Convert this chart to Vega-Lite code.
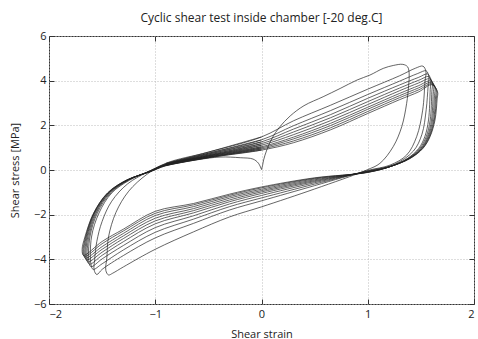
{
  "$schema": "https://vega.github.io/schema/vega-lite/v6.json",
  "width": 425,
  "height": 268,
  "autosize": {"type": "none"},
  "padding": {"left": 49, "top": 36, "right": 4, "bottom": 35},
  "title": {"text": "Cyclic shear test inside chamber [-20 deg.C]", "font": "Open Sans", "fontSize": 12, "fontWeight": "normal", "color": "#222", "offset": 5, "anchor": "middle"},
  "config": {
    "view": {"stroke": "#333", "strokeWidth": 1},
    "font": "Open Sans",
    "axis": {"grid": true, "gridDash": [1, 2], "gridColor": "#bdbdbd", "gridWidth": 1, "domain": false, "tickColor": "#333", "tickSize": -5, "labelFont": "Open Sans", "labelFontSize": 11, "labelColor": "#222", "titleFont": "Open Sans", "titleFontSize": 11, "titleFontWeight": "normal", "titleColor": "#222"}
  },
  "data": {"values": [
    {"c":0,"x":0,"y":0.02},{"c":0,"x":0.01,"y":0.2},{"c":0,"x":0.02,"y":0.45},{"c":0,"x":0.05,"y":0.9},{"c":0,"x":0.1,"y":1.43},{"c":0,"x":0.17,"y":1.92},{"c":0,"x":0.27,"y":2.42},{"c":0,"x":0.4,"y":2.88},{"c":0,"x":0.58,"y":3.28},{"c":0,"x":0.74,"y":3.65},{"c":0,"x":0.9,"y":4.03},{"c":0,"x":1.02,"y":4.25},{"c":0,"x":1.146,"y":4.55},{"c":0,"x":1.24,"y":4.68},{"c":0,"x":1.33,"y":4.73},{"c":0,"x":1.375,"y":4.62},{"c":0,"x":1.39,"y":4.3},{"c":0,"x":1.385,"y":3.8},{"c":0,"x":1.366,"y":2.98},{"c":0,"x":1.32,"y":1.94},{"c":0,"x":1.24,"y":1.05},{"c":0,"x":1.115,"y":0.3},{"c":0,"x":0.99,"y":0.0},{"c":0,"x":0.5,"y":-0.85},{"c":0,"x":0,"y":-1.65},{"c":0,"x":-0.3,"y":-2.1},{"c":0,"x":-0.64,"y":-2.77},{"c":0,"x":-1.0,"y":-3.55},{"c":0,"x":-1.3,"y":-4.34},{"c":0,"x":-1.4,"y":-4.62},{"c":0,"x":-1.44,"y":-4.7},{"c":0,"x":-1.465,"y":-4.5},{"c":0,"x":-1.455,"y":-3.9},{"c":0,"x":-1.44,"y":-3.0},{"c":0,"x":-1.37,"y":-1.9},{"c":0,"x":-1.25,"y":-0.95},{"c":0,"x":-1.08,"y":-0.2},{"c":0,"x":-0.9,"y":0.3},{"c":0,"x":-0.5,"y":0.8},{"c":0,"x":0,"y":1.48},
    {"c":1,"x":-0.9,"y":0.3},{"c":1,"x":-0.5,"y":0.8},{"c":1,"x":0,"y":1.48},{"c":1,"x":0.3,"y":2.2},{"c":1,"x":0.65,"y":2.9},{"c":1,"x":1.0,"y":3.62},{"c":1,"x":1.3,"y":4.22},{"c":1,"x":1.45,"y":4.56},{"c":1,"x":1.52,"y":4.65},{"c":1,"x":1.548,"y":4.4},{"c":1,"x":1.54,"y":4.03},{"c":1,"x":1.517,"y":2.68},{"c":1,"x":1.46,"y":1.49},{"c":1,"x":1.366,"y":0.67},{"c":1,"x":1.21,"y":0.22},{"c":1,"x":1.0,"y":-0.02},{"c":1,"x":0.5,"y":-0.7},{"c":1,"x":0,"y":-1.38},{"c":1,"x":-0.3,"y":-1.79},{"c":1,"x":-0.64,"y":-2.39},{"c":1,"x":-1.0,"y":-3.04},{"c":1,"x":-1.3,"y":-3.83},{"c":1,"x":-1.5,"y":-4.45},{"c":1,"x":-1.55,"y":-4.68},{"c":1,"x":-1.575,"y":-4.48},{"c":1,"x":-1.57,"y":-4.0},{"c":1,"x":-1.55,"y":-3.2},{"c":1,"x":-1.5,"y":-2.3},{"c":1,"x":-1.41,"y":-1.4},{"c":1,"x":-1.26,"y":-0.62},{"c":1,"x":-1.06,"y":-0.06},{"c":1,"x":-0.9,"y":0.28},{"c":1,"x":-0.5,"y":0.75},{"c":1,"x":0,"y":1.35},
    {"c":2,"x":-0.9,"y":0.28},{"c":2,"x":-0.5,"y":0.75},{"c":2,"x":0,"y":1.35},{"c":2,"x":0.3,"y":1.98},{"c":2,"x":0.65,"y":2.66},{"c":2,"x":1.0,"y":3.38},{"c":2,"x":1.3,"y":3.98},{"c":2,"x":1.47,"y":4.32},{"c":2,"x":1.55,"y":4.44},{"c":2,"x":1.575,"y":4.17},{"c":2,"x":1.568,"y":3.75},{"c":2,"x":1.55,"y":2.7},{"c":2,"x":1.51,"y":1.6},{"c":2,"x":1.43,"y":0.85},{"c":2,"x":1.25,"y":0.25},{"c":2,"x":1.0,"y":-0.04},{"c":2,"x":0.5,"y":-0.63},{"c":2,"x":0,"y":-1.25},{"c":2,"x":-0.3,"y":-1.64},{"c":2,"x":-0.64,"y":-2.2},{"c":2,"x":-1.0,"y":-2.79},{"c":2,"x":-1.3,"y":-3.58},{"c":2,"x":-1.5,"y":-4.2},{"c":2,"x":-1.585,"y":-4.45},{"c":2,"x":-1.605,"y":-4.22},{"c":2,"x":-1.6,"y":-3.0},{"c":2,"x":-1.53,"y":-1.93},{"c":2,"x":-1.41,"y":-1.03},{"c":2,"x":-1.24,"y":-0.45},{"c":2,"x":-1.05,"y":-0.04},{"c":2,"x":-0.9,"y":0.26},{"c":2,"x":-0.5,"y":0.71},{"c":2,"x":0,"y":1.26},
    {"c":3,"x":-0.9,"y":0.26},{"c":3,"x":-0.5,"y":0.71},{"c":3,"x":0,"y":1.26},{"c":3,"x":0.3,"y":1.83},{"c":3,"x":0.65,"y":2.48},{"c":3,"x":1.0,"y":3.21},{"c":3,"x":1.3,"y":3.81},{"c":3,"x":1.48,"y":4.15},{"c":3,"x":1.565,"y":4.3},{"c":3,"x":1.592,"y":4.02},{"c":3,"x":1.588,"y":3.6},{"c":3,"x":1.572,"y":2.24},{"c":3,"x":1.537,"y":1.49},{"c":3,"x":1.48,"y":0.97},{"c":3,"x":1.375,"y":0.52},{"c":3,"x":1.205,"y":0.15},{"c":3,"x":1.0,"y":-0.06},{"c":3,"x":0.5,"y":-0.57},{"c":3,"x":0,"y":-1.14},{"c":3,"x":-0.3,"y":-1.52},{"c":3,"x":-0.64,"y":-2.05},{"c":3,"x":-1.0,"y":-2.58},{"c":3,"x":-1.3,"y":-3.38},{"c":3,"x":-1.5,"y":-3.98},{"c":3,"x":-1.605,"y":-4.33},{"c":3,"x":-1.625,"y":-4.08},{"c":3,"x":-1.615,"y":-3.0},{"c":3,"x":-1.545,"y":-1.93},{"c":3,"x":-1.42,"y":-1.03},{"c":3,"x":-1.25,"y":-0.45},{"c":3,"x":-1.05,"y":-0.05},{"c":3,"x":-0.9,"y":0.25},{"c":3,"x":-0.5,"y":0.67},{"c":3,"x":0,"y":1.18},
    {"c":4,"x":-0.9,"y":0.25},{"c":4,"x":-0.5,"y":0.67},{"c":4,"x":0,"y":1.18},{"c":4,"x":0.3,"y":1.7},{"c":4,"x":0.65,"y":2.34},{"c":4,"x":1.0,"y":3.06},{"c":4,"x":1.3,"y":3.67},{"c":4,"x":1.48,"y":4.02},{"c":4,"x":1.575,"y":4.18},{"c":4,"x":1.607,"y":3.9},{"c":4,"x":1.603,"y":3.5},{"c":4,"x":1.588,"y":2.24},{"c":4,"x":1.55,"y":1.49},{"c":4,"x":1.49,"y":0.97},{"c":4,"x":1.38,"y":0.52},{"c":4,"x":1.207,"y":0.15},{"c":4,"x":1.0,"y":-0.07},{"c":4,"x":0.5,"y":-0.52},{"c":4,"x":0,"y":-1.05},{"c":4,"x":-0.3,"y":-1.42},{"c":4,"x":-0.64,"y":-1.92},{"c":4,"x":-1.0,"y":-2.41},{"c":4,"x":-1.3,"y":-3.21},{"c":4,"x":-1.5,"y":-3.82},{"c":4,"x":-1.62,"y":-4.22},{"c":4,"x":-1.64,"y":-3.97},{"c":4,"x":-1.625,"y":-3.0},{"c":4,"x":-1.555,"y":-1.93},{"c":4,"x":-1.43,"y":-1.03},{"c":4,"x":-1.255,"y":-0.45},{"c":4,"x":-1.05,"y":-0.06},{"c":4,"x":-0.9,"y":0.24},{"c":4,"x":-0.5,"y":0.64},{"c":4,"x":0,"y":1.11},
    {"c":5,"x":-0.9,"y":0.24},{"c":5,"x":-0.5,"y":0.64},{"c":5,"x":0,"y":1.11},{"c":5,"x":0.3,"y":1.58},{"c":5,"x":0.65,"y":2.21},{"c":5,"x":1.0,"y":2.93},{"c":5,"x":1.3,"y":3.55},{"c":5,"x":1.48,"y":3.9},{"c":5,"x":1.582,"y":4.08},{"c":5,"x":1.62,"y":3.8},{"c":5,"x":1.616,"y":3.4},{"c":5,"x":1.6,"y":2.24},{"c":5,"x":1.561,"y":1.49},{"c":5,"x":1.5,"y":0.97},{"c":5,"x":1.386,"y":0.52},{"c":5,"x":1.208,"y":0.15},{"c":5,"x":1.0,"y":-0.08},{"c":5,"x":0.5,"y":-0.48},{"c":5,"x":0,"y":-0.98},{"c":5,"x":-0.3,"y":-1.34},{"c":5,"x":-0.64,"y":-1.82},{"c":5,"x":-1.0,"y":-2.28},{"c":5,"x":-1.3,"y":-3.07},{"c":5,"x":-1.5,"y":-3.68},{"c":5,"x":-1.635,"y":-4.12},{"c":5,"x":-1.652,"y":-3.87},{"c":5,"x":-1.635,"y":-3.0},{"c":5,"x":-1.563,"y":-1.93},{"c":5,"x":-1.435,"y":-1.03},{"c":5,"x":-1.26,"y":-0.45},{"c":5,"x":-1.05,"y":-0.06},{"c":5,"x":-0.9,"y":0.23},{"c":5,"x":-0.5,"y":0.62},{"c":5,"x":0,"y":1.04},
    {"c":6,"x":-0.9,"y":0.23},{"c":6,"x":-0.5,"y":0.62},{"c":6,"x":0,"y":1.04},{"c":6,"x":0.3,"y":1.47},{"c":6,"x":0.65,"y":2.09},{"c":6,"x":1.0,"y":2.81},{"c":6,"x":1.3,"y":3.43},{"c":6,"x":1.48,"y":3.78},{"c":6,"x":1.59,"y":3.99},{"c":6,"x":1.632,"y":3.7},{"c":6,"x":1.628,"y":3.33},{"c":6,"x":1.61,"y":2.24},{"c":6,"x":1.569,"y":1.49},{"c":6,"x":1.506,"y":0.97},{"c":6,"x":1.39,"y":0.52},{"c":6,"x":1.209,"y":0.15},{"c":6,"x":1.0,"y":-0.09},{"c":6,"x":0.5,"y":-0.44},{"c":6,"x":0,"y":-0.92},{"c":6,"x":-0.3,"y":-1.26},{"c":6,"x":-0.64,"y":-1.73},{"c":6,"x":-1.0,"y":-2.16},{"c":6,"x":-1.3,"y":-2.95},{"c":6,"x":-1.5,"y":-3.55},{"c":6,"x":-1.648,"y":-4.03},{"c":6,"x":-1.662,"y":-3.79},{"c":6,"x":-1.643,"y":-3.0},{"c":6,"x":-1.57,"y":-1.93},{"c":6,"x":-1.44,"y":-1.03},{"c":6,"x":-1.262,"y":-0.45},{"c":6,"x":-1.05,"y":-0.07},{"c":6,"x":-0.9,"y":0.22},{"c":6,"x":-0.5,"y":0.59},{"c":6,"x":0,"y":0.99},
    {"c":7,"x":-0.9,"y":0.22},{"c":7,"x":-0.5,"y":0.59},{"c":7,"x":0,"y":0.99},{"c":7,"x":0.3,"y":1.39},{"c":7,"x":0.65,"y":1.99},{"c":7,"x":1.0,"y":2.72},{"c":7,"x":1.3,"y":3.33},{"c":7,"x":1.48,"y":3.68},{"c":7,"x":1.595,"y":3.92},{"c":7,"x":1.642,"y":3.62},{"c":7,"x":1.638,"y":3.27},{"c":7,"x":1.62,"y":2.24},{"c":7,"x":1.576,"y":1.49},{"c":7,"x":1.512,"y":0.97},{"c":7,"x":1.394,"y":0.52},{"c":7,"x":1.21,"y":0.15},{"c":7,"x":1.0,"y":-0.1},{"c":7,"x":0.5,"y":-0.4},{"c":7,"x":0,"y":-0.86},{"c":7,"x":-0.3,"y":-1.19},{"c":7,"x":-0.64,"y":-1.64},{"c":7,"x":-1.0,"y":-2.04},{"c":7,"x":-1.3,"y":-2.84},{"c":7,"x":-1.5,"y":-3.43},{"c":7,"x":-1.658,"y":-3.95},{"c":7,"x":-1.672,"y":-3.71},{"c":7,"x":-1.65,"y":-3.0},{"c":7,"x":-1.575,"y":-1.93},{"c":7,"x":-1.445,"y":-1.03},{"c":7,"x":-1.265,"y":-0.45},{"c":7,"x":-1.05,"y":-0.07},{"c":7,"x":-0.9,"y":0.21},{"c":7,"x":-0.5,"y":0.57},{"c":7,"x":0,"y":0.94},
    {"c":8,"x":-0.9,"y":0.21},{"c":8,"x":-0.5,"y":0.57},{"c":8,"x":0,"y":0.94},{"c":8,"x":0.3,"y":1.3},{"c":8,"x":0.65,"y":1.89},{"c":8,"x":1.0,"y":2.62},{"c":8,"x":1.3,"y":3.24},{"c":8,"x":1.48,"y":3.59},{"c":8,"x":1.6,"y":3.86},{"c":8,"x":1.65,"y":3.55},{"c":8,"x":1.646,"y":3.22},{"c":8,"x":1.627,"y":2.24},{"c":8,"x":1.582,"y":1.49},{"c":8,"x":1.516,"y":0.97},{"c":8,"x":1.397,"y":0.52},{"c":8,"x":1.21,"y":0.15},{"c":8,"x":1.0,"y":-0.1},{"c":8,"x":0.5,"y":-0.37},{"c":8,"x":0,"y":-0.8},{"c":8,"x":-0.3,"y":-1.13},{"c":8,"x":-0.64,"y":-1.56},{"c":8,"x":-1.0,"y":-1.94},{"c":8,"x":-1.3,"y":-2.73},{"c":8,"x":-1.5,"y":-3.3},{"c":8,"x":-1.667,"y":-3.88},{"c":8,"x":-1.68,"y":-3.64},{"c":8,"x":-1.656,"y":-3.0},{"c":8,"x":-1.578,"y":-1.93},{"c":8,"x":-1.448,"y":-1.03},{"c":8,"x":-1.268,"y":-0.45},{"c":8,"x":-1.05,"y":-0.08},{"c":8,"x":-0.9,"y":0.2},{"c":8,"x":-0.5,"y":0.55},{"c":8,"x":0,"y":0.89},
    {"c":9,"x":-0.9,"y":0.2},{"c":9,"x":-0.5,"y":0.55},{"c":9,"x":0,"y":0.89},{"c":9,"x":0.3,"y":1.22},{"c":9,"x":0.65,"y":1.8},{"c":9,"x":1.0,"y":2.53},{"c":9,"x":1.3,"y":3.15},{"c":9,"x":1.48,"y":3.5},{"c":9,"x":1.605,"y":3.82},{"c":9,"x":1.657,"y":3.5},{"c":9,"x":1.653,"y":3.18},{"c":9,"x":1.633,"y":2.24},{"c":9,"x":1.586,"y":1.49},{"c":9,"x":1.52,"y":0.97},{"c":9,"x":1.4,"y":0.52},{"c":9,"x":1.21,"y":0.15},{"c":9,"x":1.0,"y":-0.11},{"c":9,"x":0.5,"y":-0.35},{"c":9,"x":0,"y":-0.76},{"c":9,"x":-0.3,"y":-1.08},{"c":9,"x":-0.64,"y":-1.5},{"c":9,"x":-1.0,"y":-1.85},{"c":9,"x":-1.3,"y":-2.65},{"c":9,"x":-1.5,"y":-3.2},{"c":9,"x":-1.675,"y":-3.82},{"c":9,"x":-1.688,"y":-3.56},{"c":9,"x":-1.662,"y":-3.0},{"c":9,"x":-1.58,"y":-1.93},{"c":9,"x":-1.45,"y":-1.03},{"c":9,"x":-1.27,"y":-0.45},{"c":9,"x":-1.05,"y":-0.08},{"c":9,"x":-0.9,"y":0.19},{"c":9,"x":-0.6,"y":0.46},{"c":9,"x":-0.39,"y":0.58},{"c":9,"x":-0.2,"y":0.55},{"c":9,"x":-0.08,"y":0.49},{"c":9,"x":-0.03,"y":0.31},{"c":9,"x":0,"y":0.02}
  ]},
  "layer": [
    {
      "mark": {"type": "line", "interpolate": "catmull-rom", "strokeWidth": 0.7, "color": "#222"},
      "encoding": {
        "x": {"field": "x", "type": "quantitative", "scale": {"domain": [-2, 2], "nice": false}, "axis": {"values": [-2, -1, 0, 1, 2], "title": "Shear strain", "labelPadding": 9, "titlePadding": 9}},
        "y": {"field": "y", "type": "quantitative", "scale": {"domain": [-6, 6], "nice": false}, "axis": {"values": [-6, -4, -2, 0, 2, 4, 6], "title": "Shear stress  [MPa]", "labelPadding": 8, "titlePadding": 13}},
        "detail": {"field": "c"},
        "order": {"value": null}
      }
    },
    {
      "mark": {"type": "line", "opacity": 0},
      "encoding": {
        "x": {"field": "x", "type": "quantitative", "scale": {"domain": [-2, 2], "nice": false}, "axis": {"orient": "top", "values": [-2, -1, 0, 1, 2], "labels": false, "title": null, "grid": false}},
        "y": {"field": "y", "type": "quantitative", "scale": {"domain": [-6, 6], "nice": false}, "axis": {"orient": "right", "values": [-6, -4, -2, 0, 2, 4, 6], "labels": false, "title": null, "grid": false}},
        "detail": {"field": "c"},
        "order": {"value": null}
      }
    }
  ],
  "resolve": {"axis": {"x": "independent", "y": "independent"}}
}
